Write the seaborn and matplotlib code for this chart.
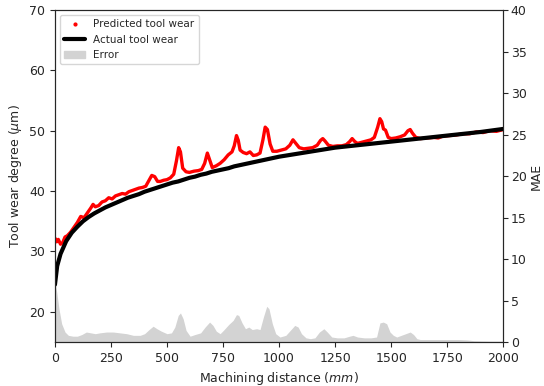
"""Tool wear prediction vs. actual, with MAE error band on a twin axis."""
import pandas as pd
import matplotlib
matplotlib.use("Agg")
import matplotlib.pyplot as plt
from matplotlib.lines import Line2D
from matplotlib.patches import Patch
import seaborn as sns

# Actual tool wear (smooth curve, read at sample distances)
actual_x = [0, 10, 25, 50, 75, 100, 125, 150, 175, 200, 225, 250, 275, 300, 325,
            350, 375, 400, 425, 450, 475, 500, 525, 550, 575, 600, 625, 650, 675,
            700, 725, 750, 775, 800, 825, 850, 875, 900, 925, 950, 975, 1000,
            1050, 1100, 1150, 1200, 1250, 1300, 1350, 1400, 1450, 1500, 1550,
            1600, 1700, 1800, 1900, 2000]
actual_y = [24.5, 27.6, 29.6, 31.7, 33.1, 34.1, 35.0, 35.7, 36.3, 36.8, 37.3,
            37.7, 38.1, 38.5, 38.9, 39.2, 39.5, 39.9, 40.2, 40.5, 40.8, 41.1,
            41.4, 41.6, 41.9, 42.2, 42.4, 42.7, 42.9, 43.2, 43.4, 43.6, 43.8,
            44.1, 44.3, 44.5, 44.7, 44.9, 45.1, 45.3, 45.5, 45.7, 46.0, 46.3,
            46.6, 46.9, 47.2, 47.4, 47.6, 47.8, 48.0, 48.2, 48.4, 48.6, 49.0,
            49.4, 49.8, 50.3]

# Predicted tool wear
pred_x = [0, 8, 15, 25, 35, 45, 55, 70, 85, 100, 115, 130, 145, 160, 170, 180,
          195, 210, 225, 240, 255, 270, 285, 300, 315, 330, 345, 360, 375, 390,
          405, 420, 432, 445, 458, 470, 485, 500, 515, 530, 542, 552, 560, 570,
          585, 600, 620, 640, 655, 668, 680, 690, 702, 720, 737, 755, 773, 790,
          800, 810, 818, 826, 840, 855, 870, 885, 900, 915, 928, 938, 948, 960,
          972, 990, 1010, 1030, 1048, 1062, 1075, 1090, 1110, 1130, 1150, 1170,
          1185, 1195, 1205, 1220, 1240, 1260, 1280, 1300, 1315, 1326, 1338,
          1350, 1370, 1390, 1410, 1425, 1440, 1450, 1458, 1466, 1475, 1487,
          1500, 1520, 1540, 1560, 1575, 1585, 1595, 1610, 1630, 1660, 1690,
          1710, 1730, 1760, 1790, 1820, 1850, 1880, 1910, 1940, 1970, 2000]
pred_y = [32.2, 31.6, 32.0, 31.2, 31.5, 32.4, 32.6, 33.2, 34.0, 34.8, 35.8,
          35.6, 36.4, 37.2, 37.8, 37.4, 37.6, 38.2, 38.4, 38.9, 38.7, 39.2,
          39.4, 39.6, 39.5, 39.9, 40.1, 40.3, 40.5, 40.6, 40.8, 41.8, 42.6,
          42.4, 41.6, 41.6, 41.8, 41.9, 42.2, 42.8, 45.0, 47.2, 46.5, 43.8,
          43.2, 43.1, 43.3, 43.4, 43.6, 44.6, 46.3, 45.2, 43.9, 44.2, 44.6,
          45.2, 46.0, 46.5, 47.5, 49.2, 48.4, 46.8, 46.4, 46.2, 46.5, 45.9,
          46.0, 46.3, 48.5, 50.6, 50.2, 47.8, 46.6, 46.6, 46.8, 47.0, 47.6,
          48.5, 47.9, 47.2, 47.0, 47.1, 47.2, 47.6, 48.4, 48.7, 48.3, 47.6,
          47.4, 47.5, 47.5, 47.7, 48.2, 48.7, 48.2, 47.9, 48.1, 48.3, 48.5,
          48.9, 50.6, 52.0, 51.5, 50.3, 50.1, 48.9, 48.7, 48.8, 49.0, 49.3,
          50.0, 50.2, 49.6, 48.9, 48.7, 48.8, 48.9, 48.8, 49.1, 49.2, 49.3,
          49.5, 49.5, 49.8, 49.7, 50.0, 49.9, 50.2]

# Error (MAE, right axis)
err_x = [0, 8, 18, 30, 45, 60, 80, 100, 120, 140, 160, 180, 200, 230, 260, 290,
         320, 350, 380, 400, 420, 438, 455, 475, 500, 520, 535, 550, 560, 572,
         585, 603, 625, 650, 670, 690, 705, 720, 737, 755, 775, 795, 810, 820,
         835, 850, 865, 880, 900, 915, 930, 945, 955, 970, 985, 1004, 1030,
         1050, 1070, 1085, 1100, 1120, 1140, 1160, 1180, 1200, 1215, 1235,
         1260, 1290, 1315, 1330, 1350, 1380, 1410, 1435, 1450, 1465, 1480,
         1495, 1510, 1525, 1545, 1565, 1585, 1600, 1615, 1630, 1700, 1800,
         1840, 1870, 1950, 2000]
err_y = [7.2, 6.0, 4.0, 2.2, 1.2, 0.8, 0.7, 0.7, 0.9, 1.2, 1.1, 1.0, 1.1, 1.2,
         1.2, 1.1, 1.0, 0.8, 0.8, 1.0, 1.5, 1.9, 1.6, 1.3, 1.0, 1.1, 1.8, 3.2,
         3.5, 2.8, 1.4, 0.7, 0.9, 1.1, 1.8, 2.4, 2.0, 1.3, 1.0, 1.5, 2.1, 2.6,
         3.3, 3.2, 2.3, 1.6, 1.8, 1.5, 1.6, 1.5, 3.0, 4.3, 4.0, 2.2, 1.0, 0.6,
         0.8, 1.4, 2.0, 1.8, 1.0, 0.5, 0.4, 0.5, 1.2, 1.6, 1.2, 0.6, 0.5, 0.5,
         0.7, 0.8, 0.6, 0.5, 0.5, 0.6, 2.3, 2.4, 2.2, 1.2, 0.8, 0.6, 0.8, 1.0,
         1.2, 0.9, 0.4, 0.3, 0.3, 0.3, 0.25, 0.15, 0.1, 0.1]

actual_df = pd.DataFrame({"distance": actual_x, "wear": actual_y})
pred_df = pd.DataFrame({"distance": pred_x, "wear": pred_y})
err_df = pd.DataFrame({"distance": err_x, "mae": err_y})

sns.set_style("ticks")
plt.rcParams["font.family"] = ["DejaVu Sans"]

fig, ax = plt.subplots(figsize=(5.44, 3.86), dpi=100)
fig.subplots_adjust(left=0.101, right=0.925, bottom=0.114, top=0.974)
ax2 = ax.twinx()

# error band on the right axis, kept behind the wear curves
ax2.fill_between(err_df["distance"], 0, err_df["mae"], color="#d3d3d3", lw=0)
ax2.set_ylim(0, 40)
ax2.set_ylabel("MAE", fontsize=9, labelpad=2)
ax2.tick_params(labelsize=9, pad=2)

ax.set_zorder(ax2.get_zorder() + 1)
ax.patch.set_visible(False)

sns.lineplot(data=pred_df, x="distance", y="wear", ax=ax, color="red",
             lw=2.4, legend=False)
sns.lineplot(data=actual_df, x="distance", y="wear", ax=ax, color="black",
             lw=3, legend=False)

ax.set_xlim(0, 2000)
ax.set_ylim(15, 70)
ax.set_xticks(range(0, 2001, 250))
ax.set_xlabel("Machining distance ($mm$)", fontsize=9)
ax.set_ylabel(r"Tool wear degree ($\mu$m)", fontsize=9)
ax.tick_params(labelsize=9)

handles = [
    Line2D([], [], color="red", marker=".", ls="none", markersize=4),
    Line2D([], [], color="black", lw=3),
    Patch(color="#d3d3d3"),
]
ax.legend(handles, ["Predicted tool wear", "Actual tool wear", "Error"],
          loc="upper left", fontsize=7.5, frameon=True)

fig.savefig("out.png", dpi=100)
